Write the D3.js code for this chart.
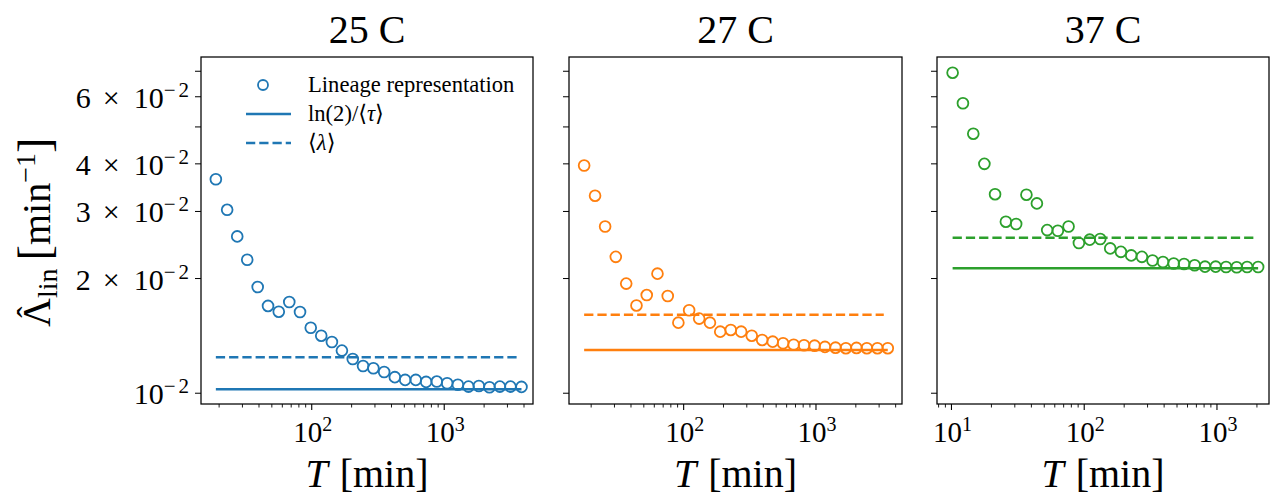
<!DOCTYPE html>
<html><head><meta charset="utf-8">
<script src="https://cdn.jsdelivr.net/npm/d3@7"></script>
<style>
body{margin:0;background:#fff}
text{font-family:"Liberation Serif","DejaVu Serif",serif;fill:#000}
</style>
</head><body>
<svg id="c" width="1270" height="498"></svg>
<script>
// ---------------- data ----------------
const titles = ["25 C", "27 C", "37 C"];
const colors = ["#1f77b4", "#ff7f0e", "#2ca02c"];

const T25 = [18.9, 23.0, 27.4, 32.6, 39.1, 46.8, 56.4, 67.7, 81.6, 98.3, 118, 142, 169, 204, 244, 292, 352, 424, 507, 610, 730, 879, 1052, 1267, 1524, 1825, 2195, 2630, 3162, 3829];
const L25 = [0.03645, 0.0303, 0.0258, 0.0224, 0.0190, 0.01695, 0.01637, 0.01736, 0.01634, 0.01486, 0.01416, 0.01363, 0.01294, 0.0123, 0.01179, 0.01163, 0.01137, 0.01102, 0.01084, 0.01084, 0.01071, 0.01073, 0.01062, 0.01053, 0.01041, 0.01045, 0.01037, 0.01041, 0.01041, 0.01039];

const T27 = [17.7, 21.4, 25.5, 30.7, 36.8, 44.0, 52.6, 63.4, 75.8, 91.2, 110, 131, 158, 189, 227, 272, 327, 392, 471, 564, 678, 812, 976, 1169, 1405, 1683, 2023, 2423, 2912, 3487];
const L27 = [0.0396, 0.0330, 0.0274, 0.0228, 0.0194, 0.0170, 0.0181, 0.0206, 0.0180, 0.01532, 0.01651, 0.0157, 0.01532, 0.01451, 0.01466, 0.01451, 0.01416, 0.0138, 0.01366, 0.01353, 0.01341, 0.01336, 0.01333, 0.01323, 0.01317, 0.01313, 0.01315, 0.01313, 0.01313, 0.01313];

const T37 = [10.2, 12.2, 14.6, 17.7, 21.3, 25.7, 30.7, 36.7, 44.0, 52.6, 63.3, 76.2, 91.2, 110, 132, 157, 189, 226, 272, 327, 392, 472, 565, 679, 813, 978, 1171, 1408, 1687, 2042];
const L37 = [0.0694, 0.0577, 0.0480, 0.0400, 0.0333, 0.0282, 0.0278, 0.0332, 0.0315, 0.0268, 0.0267, 0.0274, 0.0248, 0.0253, 0.0254, 0.0240, 0.0235, 0.0230, 0.0228, 0.0223, 0.0221, 0.0219, 0.02184, 0.02167, 0.02149, 0.02149, 0.02145, 0.02141, 0.02145, 0.02145];

const lnTau = [0.01024, 0.01299, 0.02128];      // ln(2)/<tau>
const meanLambda = [0.01243, 0.01606, 0.0256];  // <lambda>

const xDomains = [[14.6, 4677], [13.6, 4467], [7.78, 2466]];
const yDomain = [0.00937, 0.0763];
const yTickValues = [0.01, 0.02, 0.03, 0.04, 0.05, 0.06, 0.07];
const yTickLabels = [["", "10", "−2"], ["2", "10", "−2"], ["3", "10", "−2"], ["4", "10", "−2"], null, ["6", "10", "−2"], null];
const xTickLabelValues = [[100, 1000], [100, 1000], [10, 100, 1000]];
const xTickExponents = {10: "1", 100: "2", 1000: "3"};
const legendLabels = ["Lineage representation", "ln(2)/⟨τ⟩", "⟨λ⟩"];

const seriesT = [T25, T27, T37];
const seriesL = [L25, L27, L37];

// ---------------- layout ----------------
const panels = [{x0: 201, x1: 533}, {x0: 569, x1: 902}, {x0: 937, x1: 1269}];
const yTop = 57, yBottom = 404;
const LW = 2.5, DASH = "9.25,4";
const svg = d3.select("#c");

const y = d3.scaleLog().domain(yDomain).range([yBottom, yTop]);

function supText(g, x, yb, parts, size, anchor) {
  const t = g.append("text").attr("x", x).attr("y", yb)
    .attr("text-anchor", anchor).style("font-size", size + "px");
  parts.forEach(p => {
    const ts = t.append("tspan").text(p.text);
    if (p.dy) ts.attr("dy", p.dy);
    if (p.size) ts.style("font-size", p.size + "px");
    if (p.dx) ts.attr("dx", p.dx);
    if (p.ls) ts.style("letter-spacing", p.ls + "px");
  });
  return t;
}

panels.forEach((p, i) => {
  const x = d3.scaleLog().domain(xDomains[i]).range([p.x0, p.x1]);
  const g = svg.append("g");
  const col = colors[i];

  // horizontal reference lines
  const xs = d3.extent(seriesT[i]);
  g.append("line").attr("x1", x(xs[0])).attr("x2", x(xs[1]))
    .attr("y1", y(lnTau[i])).attr("y2", y(lnTau[i]))
    .attr("stroke", col).attr("stroke-width", LW);
  g.append("line").attr("x1", x(xs[0])).attr("x2", x(xs[1]) - 4)
    .attr("y1", y(meanLambda[i])).attr("y2", y(meanLambda[i]))
    .attr("stroke", col).attr("stroke-width", LW).attr("stroke-dasharray", DASH);

  // scatter
  g.selectAll("circle.pt").data(seriesT[i].map((t, k) => [t, seriesL[i][k]]))
    .enter().append("circle").attr("class", "pt")
    .attr("cx", d => x(d[0])).attr("cy", d => y(d[1])).attr("r", 5.4)
    .attr("fill", "none").attr("stroke", col).attr("stroke-width", 1.8);

  // x ticks
  const [xa, xb] = xDomains[i];
  const xt = [];
  for (let dec = 1; dec <= 10000; dec *= 10)
    for (let k = 1; k <= 9; k++) { const v = k * dec; if (v >= xa && v <= xb) xt.push({v, major: k === 1}); }
  xt.forEach(t => {
    g.append("line").attr("x1", x(t.v)).attr("x2", x(t.v))
      .attr("y1", yBottom).attr("y2", yBottom + (t.major ? 6 : 3.5))
      .attr("stroke", "#000").attr("stroke-width", t.major ? 1.1 : 0.9);
  });
  xTickLabelValues[i].forEach(v => {
    supText(g, x(v) + 1, 442, [{text: "10"}, {text: xTickExponents[v], dy: -11, size: 20}], 29, "middle");
  });

  // y ticks
  yTickValues.forEach((v, k) => {
    g.append("line").attr("x1", p.x0).attr("x2", p.x0 - 6)
      .attr("y1", y(v)).attr("y2", y(v)).attr("stroke", "#000").attr("stroke-width", 1);
    if (i === 0 && yTickLabels[k]) {
      const [m, b, e] = yTickLabels[k];
      const parts = [];
      if (m) { parts.push({text: m}); parts.push({text: "×", dx: 12}); parts.push({text: b, dx: 14}); }
      else parts.push({text: b});
      parts.push({text: e, dy: -11, size: 21, ls: 3});
      supText(g, 192, y(v) + 11, parts, 30, "end");
    }
  });

  // frame
  g.append("rect").attr("x", p.x0).attr("y", yTop).attr("width", p.x1 - p.x0).attr("height", yBottom - yTop)
    .attr("fill", "none").attr("stroke", "#000").attr("stroke-width", 1.25);

  // title
  g.append("text").attr("x", (p.x0 + p.x1) / 2).attr("y", 43).attr("text-anchor", "middle")
    .style("font-size", "40px").text(titles[i]);

  // x label
  const xl = g.append("text").attr("x", (p.x0 + p.x1) / 2).attr("y", 487).attr("text-anchor", "middle")
    .style("font-size", "40px");
  xl.append("tspan").style("font-style", "italic").text("T");
  xl.append("tspan").attr("dx", 12).text("[min]");
});

// y label (rotated)
const ylg = svg.append("g").attr("transform", "translate(50,232) rotate(-90)");
const yl = ylg.append("text").attr("x", -95).attr("y", 0).style("font-size", "40px");
yl.append("tspan").text("Λ");
yl.append("tspan").attr("dy", 7).style("font-size", "28px").text("lin");
yl.append("tspan").attr("dy", -7).attr("dx", 8).style("font-size", "46px").text("[");
yl.append("tspan").text("min");
yl.append("tspan").attr("dy", -15).style("font-size", "28px").text("−1");
yl.append("tspan").attr("dy", 15).style("font-size", "46px").text("]");
ylg.append("text").attr("x", -80).attr("y", -9).attr("text-anchor", "middle")
  .style("font-size", "34px").text("ˆ");

// legend (panel 1)
const lg = svg.append("g");
const legY = [85, 114, 143];
lg.append("circle").attr("cx", 263).attr("cy", legY[0]).attr("r", 5)
  .attr("fill", "none").attr("stroke", colors[0]).attr("stroke-width", 1.8);
lg.append("line").attr("x1", 246).attr("x2", 291).attr("y1", legY[1]).attr("y2", legY[1])
  .attr("stroke", colors[0]).attr("stroke-width", LW);
lg.append("line").attr("x1", 246).attr("x2", 291).attr("y1", legY[2]).attr("y2", legY[2])
  .attr("stroke", colors[0]).attr("stroke-width", LW).attr("stroke-dasharray", DASH);
legendLabels.forEach((s, k) => {
  const t = lg.append("text").attr("x", 308).attr("y", legY[k] + 7).style("font-size", "22.6px");
  if (k === 0) t.text(s);
  else if (k === 1) { t.append("tspan").text("ln(2)/⟨"); t.append("tspan").style("font-style", "italic").text("τ"); t.append("tspan").text("⟩"); }
  else { t.append("tspan").text("⟨"); t.append("tspan").style("font-style", "italic").text("λ"); t.append("tspan").text("⟩"); }
});
</script>
</body></html>
